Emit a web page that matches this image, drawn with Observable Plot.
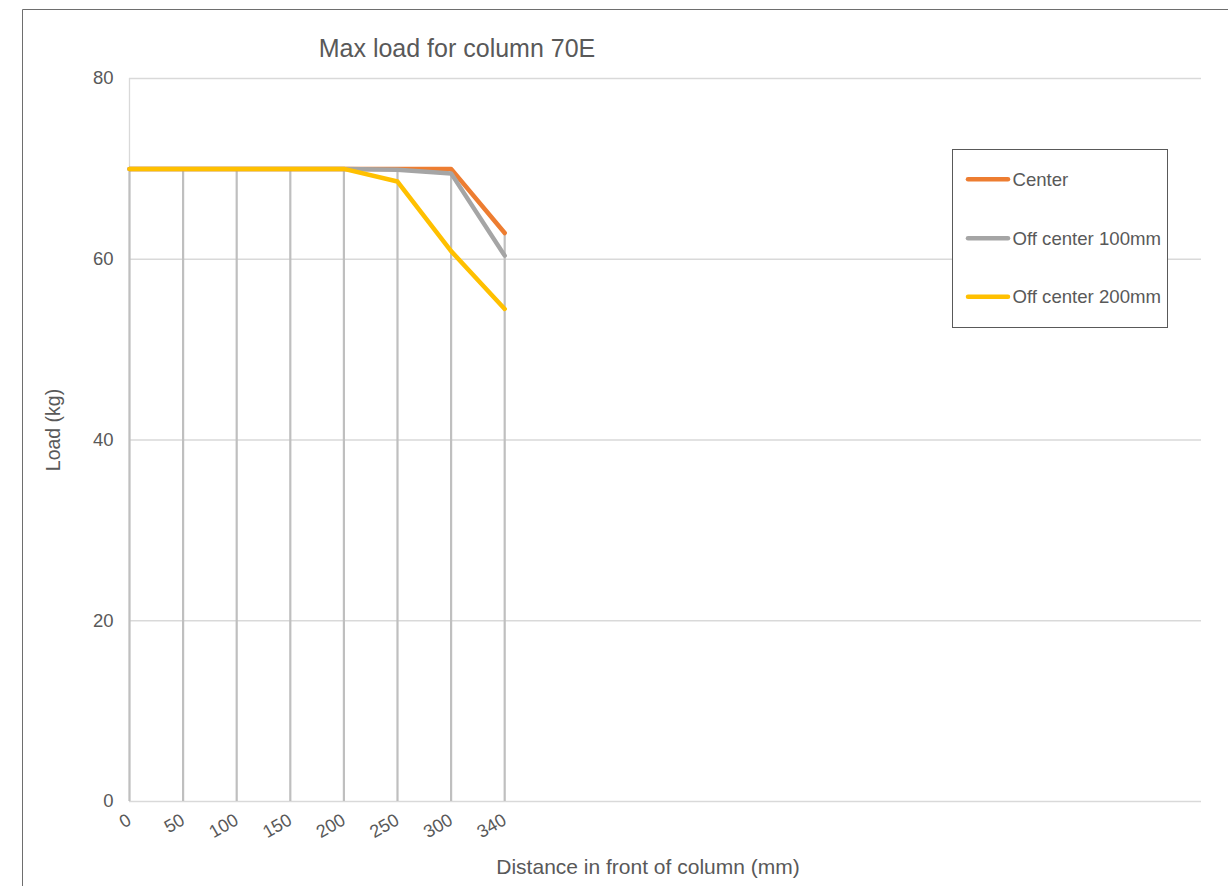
<!DOCTYPE html>
<html><head><meta charset="utf-8">
<script src="https://cdn.jsdelivr.net/npm/d3@7"></script>
<script src="https://cdn.jsdelivr.net/npm/@observablehq/plot@0.6"></script>
<style>
body{margin:0;background:#fff;}
#wrap{position:relative;width:1228px;height:886px;overflow:hidden;font-family:"Liberation Sans",Arial,sans-serif;}
#wrap svg{position:absolute;left:0;top:0;}
</style></head><body><div id="wrap"></div>
<script>
const categories = ["0","50","100","150","200","250","300","340"];
const slotCount = 21;
const center = [70,70,70,70,70,70,70,62.9];
const off100 = [70,70,70,70,70,69.9,69.5,60.4];
const off200 = [70,70,70,70,70,68.6,60.9,54.5];
const seriesNames = ["Center","Off center 100mm","Off center 200mm"];
const seriesColors = ["#ED7D31","#A5A5A5","#FFC000"];
const yTicks = [0,20,40,60,80];
const titleText = "Max load for column 70E";
const xTitle = "Distance in front of column (mm)";
const yTitle = "Load (kg)";

const FONT = '"Liberation Sans", Arial, sans-serif';
const seriesValues = [center, off100, off200];
const rows = seriesValues.flatMap((vals, s) => vals.map((v, i) => ({i, value: v, series: seriesNames[s]})));
const drops = categories.map((c, i) => ({i, top: d3.max(seriesValues, vals => vals[i])}));
const catRows = categories.map((c, i) => ({i, label: c}));

const chart = Plot.plot({
  width: 1228, height: 886,
  marginLeft: 129, marginRight: 27, marginTop: 78, marginBottom: 85,
  style: {fontFamily: FONT, fontSize: "18.5px", color: "#595959", background: "transparent"},
  x: {domain: [0, slotCount - 1], axis: null},
  y: {domain: [0, 80], ticks: yTicks, tickSize: 0, tickPadding: 16, label: null},
  color: {domain: seriesNames, range: seriesColors},
  marks: [
    Plot.ruleY(yTicks, {stroke: "#D9D9D9", strokeWidth: 1.3}),
    Plot.ruleX([0], {y1: 0, y2: 80, stroke: "#D9D9D9", strokeWidth: 1.3}),
    Plot.ruleX(drops, {x: "i", y1: 0, y2: "top", stroke: "#BFBFBF", strokeWidth: 2.2}),
    Plot.lineY(rows, {x: "i", y: "value", z: "series", stroke: "series", strokeWidth: 4.5, strokeLinejoin: "round", strokeLinecap: "round"}),
    Plot.text(catRows, {x: "i", y: () => 0, text: "label", rotate: -30, textAnchor: "end", dx: 0, dy: 17, fill: "#595959", fontSize: 18})
  ]
});
const wrap = document.getElementById("wrap");
wrap.appendChild(chart);

// overlay: frame, titles, legend
const ov = d3.select(wrap).append("svg").attr("width", 1228).attr("height", 886)
  .style("font-family", FONT).attr("fill", "#595959");
ov.append("path").attr("d", "M22.5,886V9.5H1228").attr("fill", "none").attr("stroke", "#6e6e6e").attr("stroke-width", 1);
ov.append("text").attr("x", 457).attr("y", 57).attr("text-anchor", "middle").attr("font-size", 25).text(titleText);
ov.append("text").attr("x", 648).attr("y", 874).attr("text-anchor", "middle").attr("font-size", 21).text(xTitle);
ov.append("text").attr("transform", "translate(60,430) rotate(-90)").attr("text-anchor", "middle").attr("font-size", 19.5).text(yTitle);

const lg = ov.append("g");
lg.append("rect").attr("x", 952.5).attr("y", 149.5).attr("width", 215).attr("height", 178)
  .attr("fill", "#fff").attr("stroke", "#595959").attr("stroke-width", 1);
const rowY = [179.3, 238.3, 296.7];
seriesNames.forEach((name, k) => {
  lg.append("line").attr("x1", 968).attr("x2", 1008).attr("y1", rowY[k]).attr("y2", rowY[k])
    .attr("stroke", seriesColors[k]).attr("stroke-width", 4.5).attr("stroke-linecap", "round");
  lg.append("text").attr("x", 1012.5).attr("y", rowY[k] + 6.6).attr("font-size", 18.6).text(name);
});
</script></body></html>
